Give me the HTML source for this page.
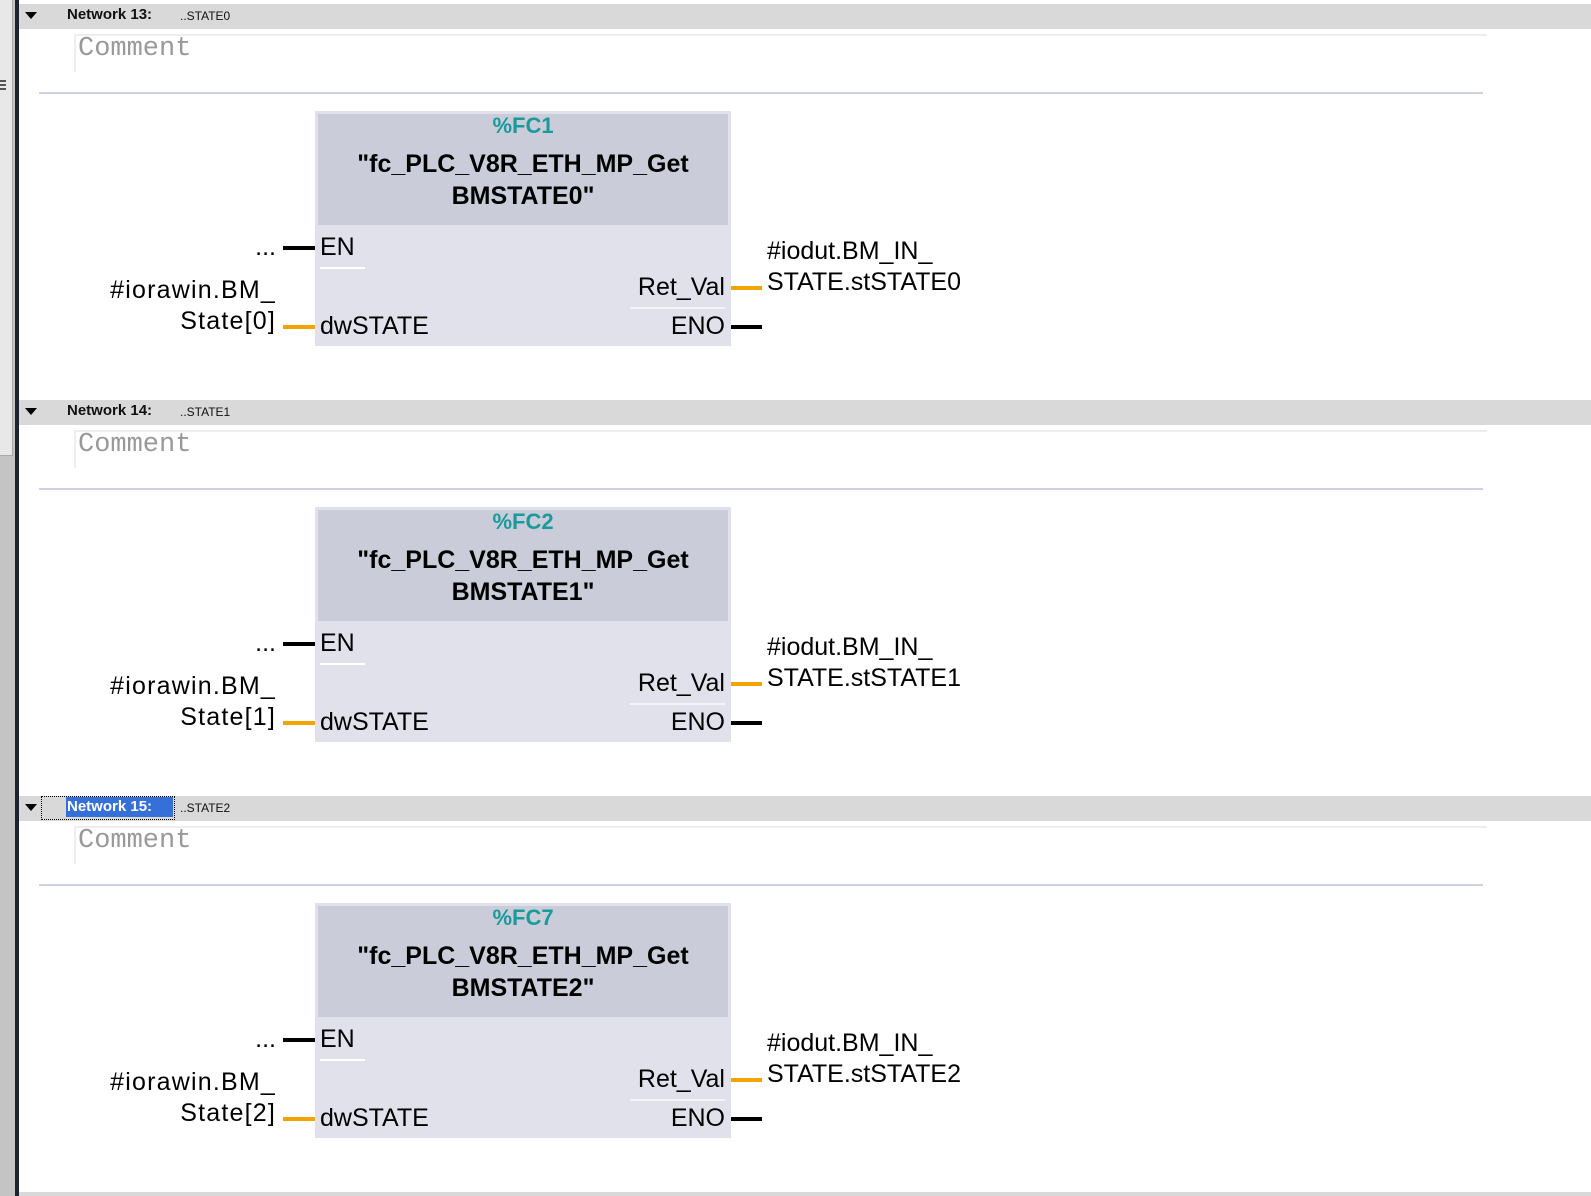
<!DOCTYPE html>
<html><head><meta charset="utf-8"><style>
body{margin:0;width:1591px;height:1196px;position:relative;overflow:hidden;background:#fff;font-family:"Liberation Sans","DejaVu Sans",sans-serif}
.a{position:absolute}
.net{position:absolute;left:0;top:0;width:1591px;height:400px}
.hdr{position:absolute;left:19px;top:4px;width:1572px;height:25px;background:#d9d9d9}
.tri{position:absolute;left:25px;top:12px;width:0;height:0;border-left:6px solid transparent;border-right:6px solid transparent;border-top:7px solid #000}
.nt{position:absolute;left:67px;top:6px;font-size:15px;font-weight:bold;color:#111}
.sub{position:absolute;left:180px;top:9px;font-size:12px;color:#111}
.cm{position:absolute;left:74px;top:34px;width:1411px;height:36px;border-top:2px solid #eee;border-left:2px solid #eee}
.cmt{position:absolute;left:78px;top:34px;font-family:"Liberation Mono",monospace;font-size:27px;color:#999}
.sep{position:absolute;left:39px;top:92px;width:1444px;height:2px;background:#cfcfe6}
.box{position:absolute;left:315px;top:111px;width:416px;height:235px;background:#e0e1ea}
.bh{position:absolute;left:318px;top:114px;width:410px;height:111px;background:#cacdd9}
.t{position:absolute;white-space:nowrap;color:#000}
.w{position:absolute;height:4px}
.ll{letter-spacing:1.2px}
</style></head><body>
<div class="a" style="left:0;top:0;width:15px;height:1196px;background:#c4c4c4"></div>
<div class="a" style="left:0;top:0;width:12px;height:455px;background:#e8e8e8;border-right:1px solid #aaa;border-bottom:1px solid #aaa"></div>
<div class="a" style="left:0;top:80px;width:6px;height:2px;background:#555"></div>
<div class="a" style="left:0;top:84px;width:6px;height:2px;background:#555"></div>
<div class="a" style="left:0;top:88px;width:6px;height:2px;background:#555"></div>
<div class="a" style="left:15px;top:0;width:4px;height:1196px;background:#1e2330"></div>
<div class="a" style="left:19px;top:1192px;width:1572px;height:4px;background:#d9d9d9"></div>

<div class="net" style="top:0">
<div class="hdr"></div><div class="tri"></div><div class="nt">Network 13:</div><div class="sub">..STATE0</div>
<div class="cm"></div><div class="cmt">Comment</div><div class="sep"></div>
<div class="box"></div><div class="bh"></div>
<div class="t" style="left:318px;width:410px;text-align:center;top:113px;font-size:22px;font-weight:bold;color:#1a9a9a">%FC1</div>
<div class="t" style="left:318px;width:410px;text-align:center;top:148px;font-size:25px;font-weight:bold;line-height:32px">"fc_PLC_V8R_ETH_MP_Get<br>BMSTATE0"</div>
<div class="t" style="left:320px;top:233px;font-size:25px">EN</div>
<div class="a" style="left:320px;top:267px;width:45px;height:2px;background:#fff"></div>
<div class="t" style="left:320px;top:312px;font-size:25px">dwSTATE</div>
<div class="t" style="right:866px;top:273px;font-size:25px">Ret_Val</div>
<div class="a" style="left:630px;top:307px;width:95px;height:2px;background:#f4f4f8"></div>
<div class="t" style="right:866px;top:312px;font-size:25px">ENO</div>
<div class="w" style="left:283px;top:246px;width:32px;background:#000"></div>
<div class="w" style="left:283px;top:325px;width:32px;background:#f5a300"></div>
<div class="w" style="left:731px;top:286px;width:31px;background:#f5a300"></div>
<div class="w" style="left:731px;top:325px;width:31px;background:#000"></div>
<div class="t" style="right:1315px;top:233px;font-size:25px">...</div>
<div class="t ll" style="right:1315px;top:275px;font-size:25px;text-align:right;line-height:31px">#iorawin.BM_<br>State[0]</div>
<div class="t" style="left:767px;top:236px;font-size:25px;line-height:31px">#iodut.BM_IN_<br>STATE.stSTATE0</div>
</div>

<div class="net" style="top:396px">
<div class="hdr"></div><div class="tri"></div><div class="nt">Network 14:</div><div class="sub">..STATE1</div>
<div class="cm"></div><div class="cmt">Comment</div><div class="sep"></div>
<div class="box"></div><div class="bh"></div>
<div class="t" style="left:318px;width:410px;text-align:center;top:113px;font-size:22px;font-weight:bold;color:#1a9a9a">%FC2</div>
<div class="t" style="left:318px;width:410px;text-align:center;top:148px;font-size:25px;font-weight:bold;line-height:32px">"fc_PLC_V8R_ETH_MP_Get<br>BMSTATE1"</div>
<div class="t" style="left:320px;top:233px;font-size:25px">EN</div>
<div class="a" style="left:320px;top:267px;width:45px;height:2px;background:#fff"></div>
<div class="t" style="left:320px;top:312px;font-size:25px">dwSTATE</div>
<div class="t" style="right:866px;top:273px;font-size:25px">Ret_Val</div>
<div class="a" style="left:630px;top:307px;width:95px;height:2px;background:#f4f4f8"></div>
<div class="t" style="right:866px;top:312px;font-size:25px">ENO</div>
<div class="w" style="left:283px;top:246px;width:32px;background:#000"></div>
<div class="w" style="left:283px;top:325px;width:32px;background:#f5a300"></div>
<div class="w" style="left:731px;top:286px;width:31px;background:#f5a300"></div>
<div class="w" style="left:731px;top:325px;width:31px;background:#000"></div>
<div class="t" style="right:1315px;top:233px;font-size:25px">...</div>
<div class="t ll" style="right:1315px;top:275px;font-size:25px;text-align:right;line-height:31px">#iorawin.BM_<br>State[1]</div>
<div class="t" style="left:767px;top:236px;font-size:25px;line-height:31px">#iodut.BM_IN_<br>STATE.stSTATE1</div>
</div>

<div class="net" style="top:792px">
<div class="hdr"></div><div class="tri"></div>
<div class="a" style="left:41px;top:4px;width:132px;height:22px;border:1px dotted #000"></div>
<div class="a" style="left:66px;top:5px;width:107px;height:20px;background:#3470d8"></div>
<div class="nt" style="color:#fff">Network 15:</div><div class="sub">..STATE2</div>
<div class="cm"></div><div class="cmt">Comment</div><div class="sep"></div>
<div class="box"></div><div class="bh"></div>
<div class="t" style="left:318px;width:410px;text-align:center;top:113px;font-size:22px;font-weight:bold;color:#1a9a9a">%FC7</div>
<div class="t" style="left:318px;width:410px;text-align:center;top:148px;font-size:25px;font-weight:bold;line-height:32px">"fc_PLC_V8R_ETH_MP_Get<br>BMSTATE2"</div>
<div class="t" style="left:320px;top:233px;font-size:25px">EN</div>
<div class="a" style="left:320px;top:267px;width:45px;height:2px;background:#fff"></div>
<div class="t" style="left:320px;top:312px;font-size:25px">dwSTATE</div>
<div class="t" style="right:866px;top:273px;font-size:25px">Ret_Val</div>
<div class="a" style="left:630px;top:307px;width:95px;height:2px;background:#f4f4f8"></div>
<div class="t" style="right:866px;top:312px;font-size:25px">ENO</div>
<div class="w" style="left:283px;top:246px;width:32px;background:#000"></div>
<div class="w" style="left:283px;top:325px;width:32px;background:#f5a300"></div>
<div class="w" style="left:731px;top:286px;width:31px;background:#f5a300"></div>
<div class="w" style="left:731px;top:325px;width:31px;background:#000"></div>
<div class="t" style="right:1315px;top:233px;font-size:25px">...</div>
<div class="t ll" style="right:1315px;top:275px;font-size:25px;text-align:right;line-height:31px">#iorawin.BM_<br>State[2]</div>
<div class="t" style="left:767px;top:236px;font-size:25px;line-height:31px">#iodut.BM_IN_<br>STATE.stSTATE2</div>
</div>
</body></html>
